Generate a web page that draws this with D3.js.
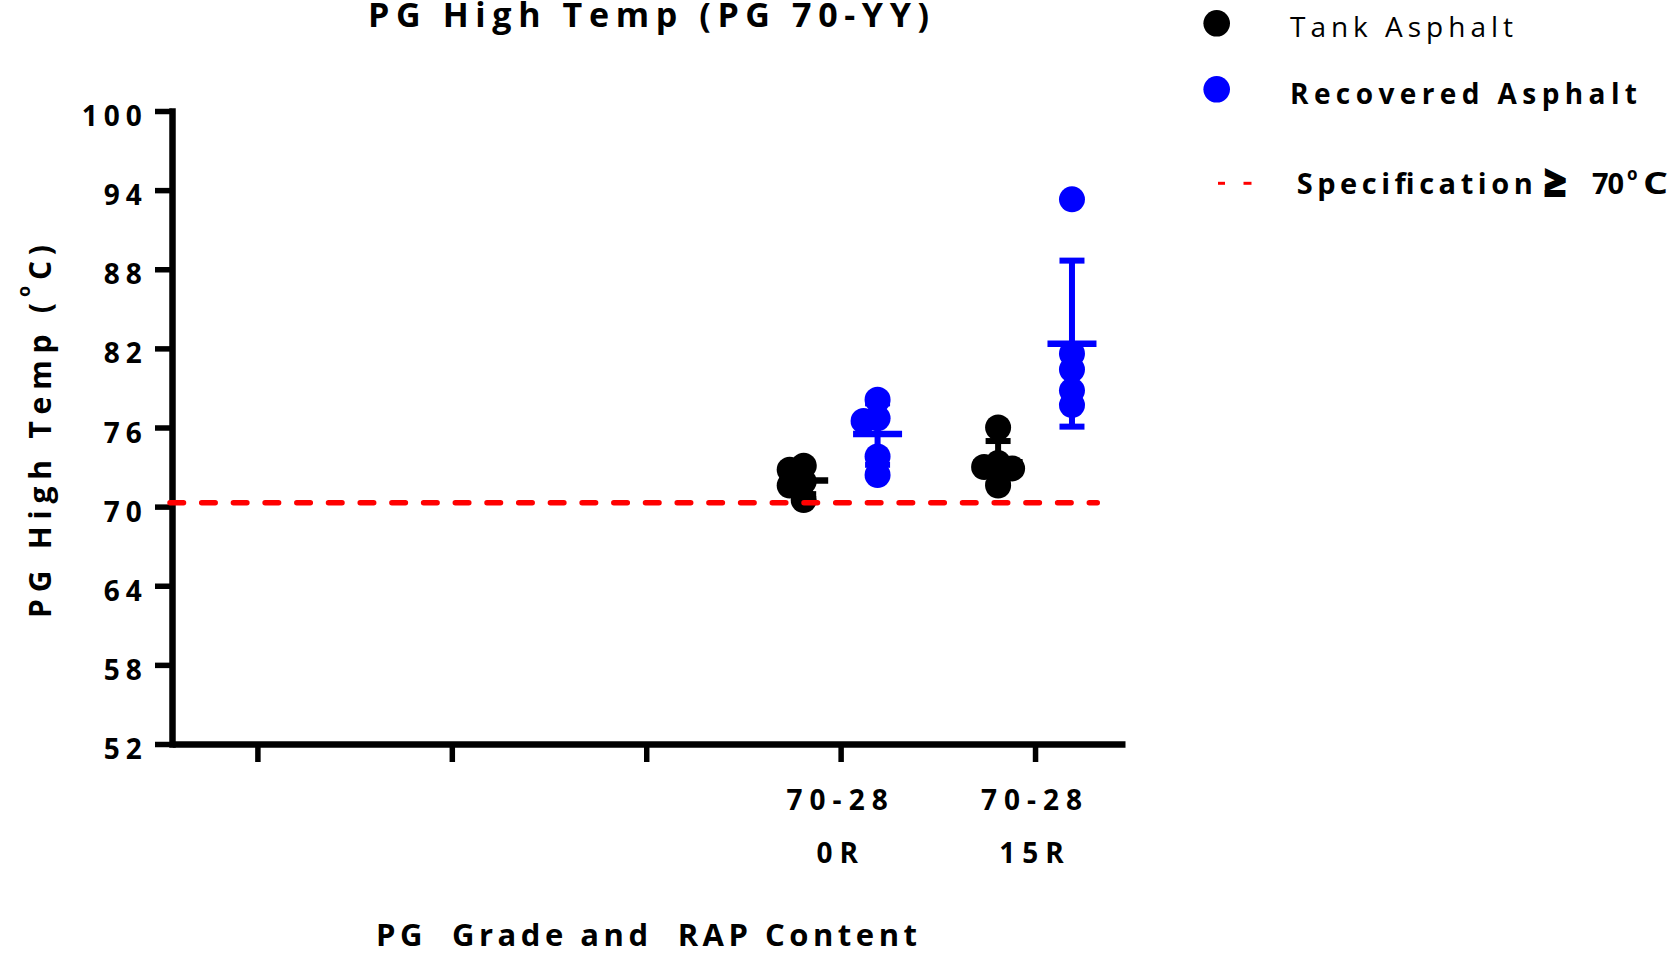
<!DOCTYPE html>
<html>
<head>
<meta charset="utf-8">
<script src="https://cdn.jsdelivr.net/npm/d3@7"></script>
<style>
  body { margin: 0; background: #fff; }
  text { font-family: "Open Sans", sans-serif; }
</style>
</head>
<body>
<div id="chart"></div>
<script>
// x categories: the first three slots have no label in the original
const categories = ["c1", "c2", "c3", "70-28 0R", "70-28 15R"]
const tickLine1 = ["", "", "", "70-28", "70-28"]
const tickLine2 = ["", "", "", "0R", "15R"]
const yTicks = [52, 58, 64, 70, 76, 82, 88, 94, 100]

// PG high temperature readings (deg C), five specimens per group
const tank0R = [73.1, 72.8, 71.9, 71.6, 70.5]
const tank15R = [76.0, 73.3, 73.0, 72.9, 71.6]
const recovered0R = [78.1, 76.7, 76.5, 73.8, 72.4]
const recovered15R = [93.3, 81.6, 80.4, 78.8, 77.7]

const specValue = 70.3

// set the dimensions and margins of the graph
const W = 1675, H = 953
const margin = {top: 111, right: 550, bottom: 209, left: 172},
    width = W - margin.left - margin.right,
    height = H - margin.top - margin.bottom

const svg = d3.select("#chart")
    .append("svg")
    .attr("width", W)
    .attr("height", H)

const g = svg.append("g")
    .attr("transform", `translate(${margin.left}, ${margin.top})`)

const x = d3.scalePoint()
    .domain(categories)
    .range([0, width])
    .padding(0.451)
    .align(0.487)

const y = d3.scaleLinear()
    .domain([52, 100])
    .range([height, 0])

const groups = [
    {cat: "70-28 0R", values: tank0R, color: "#000000", side: -1},
    {cat: "70-28 0R", values: recovered0R, color: "#0000ff", side: 1},
    {cat: "70-28 15R", values: tank15R, color: "#000000", side: -1},
    {cat: "70-28 15R", values: recovered15R, color: "#0000ff", side: 1}
]

const r = 13
const groupOffset = x.step() * 0.19

// spread overlapping dots sideways (like a column scatter)
function dodge(values) {
    const placed = []
    values.slice().sort((a, b) => b - a).forEach(v => {
        const py = y(v)
        for (let k = 0; k < 30; k++) {
            const dx = k === 0 ? 0 : Math.ceil(k / 2) * 7 * (k % 2 ? -1 : 1)
            if (placed.every(q => Math.hypot(q.dx - dx, q.py - py) >= 14)) {
                placed.push({v: v, py: py, dx: dx})
                break
            }
        }
    })
    return placed
}

// Y axis
const yAxis = g.append("g")
    .call(d3.axisLeft(y).tickValues(yTicks).tickSize(17).tickSizeOuter(0))
yAxis.select(".domain").attr("stroke-width", 6.5).attr("stroke-linecap", "square")
yAxis.selectAll(".tick line").attr("stroke-width", 5.5)
yAxis.selectAll(".tick text")
    .attr("x", -24.3)
    .attr("dy", 14.5)
    .style("font-size", "28px")
    .style("font-weight", "700")
    .style("letter-spacing", "6px")
    .attr("fill", "#000")

// X axis
const xAxis = g.append("g")
    .attr("transform", `translate(0, ${height})`)
    .call(d3.axisBottom(x).tickSize(18).tickSizeOuter(0).tickFormat(""))
xAxis.select(".domain").attr("stroke-width", 6.5)
xAxis.selectAll(".tick line").attr("stroke-width", 5.5)
xAxis.selectAll(".tick text").remove()

const xLab = g.append("g")
    .attr("transform", `translate(0, ${height})`)
    .selectAll("g")
    .data(categories)
    .join("g")
    .attr("transform", d => `translate(${x(d)}, 0)`)
xLab.append("text").attr("y", 66).text((d, i) => tickLine1[i])
xLab.append("text").attr("y", 118.5).text((d, i) => tickLine2[i])
xLab.selectAll("text")
    .attr("text-anchor", "middle")
    .style("font-size", "28px")
    .style("font-weight", "700")
    .style("letter-spacing", "7px")

// dots, means and SD bars
groups.forEach(gr => {
    const cx = x(gr.cat) + gr.side * groupOffset
    const m = d3.mean(gr.values)
    const sd = d3.deviation(gr.values)
    const grp = g.append("g")

    grp.selectAll("circle")
        .data(dodge(gr.values))
        .join("circle")
        .attr("cx", d => cx + d.dx)
        .attr("cy", d => d.py)
        .attr("r", r)
        .attr("fill", gr.color)

    grp.append("line")
        .attr("x1", cx).attr("x2", cx)
        .attr("y1", y(m - sd)).attr("y2", y(m + sd))
        .attr("stroke", gr.color).attr("stroke-width", 6)
    ;[m - sd, m + sd].forEach(v => {
        grp.append("line")
            .attr("x1", cx - 12.5).attr("x2", cx + 12.5)
            .attr("y1", y(v)).attr("y2", y(v))
            .attr("stroke", gr.color).attr("stroke-width", 6)
    })
    grp.append("line")
        .attr("x1", cx - 24.5).attr("x2", cx + 24.5)
        .attr("y1", y(m)).attr("y2", y(m))
        .attr("stroke", gr.color).attr("stroke-width", 6.5)
})

// specification line
g.append("line")
    .attr("x1", -2)
    .attr("x2", x(categories[categories.length - 1]) + x.step() * 0.32)
    .attr("y1", y(specValue)).attr("y2", y(specValue))
    .attr("stroke", "#ff0000")
    .attr("stroke-width", 5.5)
    .attr("stroke-linecap", "round")
    .attr("stroke-dasharray", "13.5,18.2")

// title
svg.append("text")
    .attr("x", 368).attr("y", 27)
    .attr("textLength", 561).attr("lengthAdjust", "spacing")
    .style("font-size", "34px").style("font-weight", "700")
    .text("PG High Temp (PG 70-YY)")

// x axis title
svg.append("text")
    .attr("x", 376).attr("y", 946)
    .attr("xml:space", "preserve")
    .style("white-space", "pre")
    .attr("textLength", 541).attr("lengthAdjust", "spacing")
    .style("font-size", "31px").style("font-weight", "700")
    .text("PG  Grade and  RAP Content")

// y axis title
const yt = svg.append("g").attr("transform", "translate(50.5, 618) rotate(-90)")
yt.append("text").attr("x", 0).attr("y", 0)
    .attr("textLength", 315).attr("lengthAdjust", "spacing")
    .style("font-size", "30px").style("font-weight", "700")
    .text("PG High Temp (")
yt.append("text").attr("x", 321).attr("y", -21)
    .style("font-size", "18px").style("font-weight", "700")
    .text("o")
yt.append("text").attr("x", 338).attr("y", 0)
    .attr("textLength", 35).attr("lengthAdjust", "spacing")
    .style("font-size", "30px").style("font-weight", "700")
    .text("C)")

// legend
const legend = svg.append("g")
legend.append("circle").attr("cx", 1216.7).attr("cy", 23.3).attr("r", 13.3).attr("fill", "#000")
legend.append("circle").attr("cx", 1216.7).attr("cy", 89.3).attr("r", 13.3).attr("fill", "#0000ff")
legend.append("text").attr("x", 1290).attr("y", 36.7)
    .attr("textLength", 223).attr("lengthAdjust", "spacing")
    .style("font-size", "28px").style("font-weight", "400")
    .text("Tank Asphalt")
legend.append("text").attr("x", 1290).attr("y", 104)
    .attr("textLength", 347).attr("lengthAdjust", "spacing")
    .style("font-size", "28px").style("font-weight", "700")
    .text("Recovered Asphalt")
;[[1218, 1225], [1243.5, 1251.5]].forEach(s => {
    legend.append("line").attr("x1", s[0]).attr("x2", s[1])
        .attr("y1", 183.3).attr("y2", 183.3)
        .attr("stroke", "#ff0000").attr("stroke-width", 3)
})
legend.append("text").attr("x", 1296.7).attr("y", 194)
    .attr("textLength", 236).attr("lengthAdjust", "spacing")
    .style("font-size", "29px").style("font-weight", "700")
    .text("Specification")
legend.append("text").attr("x", 1555).attr("y", 196)
    .attr("text-anchor", "middle")
    .style("font-size", "38px").style("font-weight", "800")
    .attr("stroke", "#000").attr("stroke-width", 2)
    .text("≥")
legend.append("text").attr("x", 1592).attr("y", 194)
    .attr("textLength", 32).attr("lengthAdjust", "spacing")
    .style("font-size", "29px").style("font-weight", "700")
    .text("70")
legend.append("text").attr("x", 1627).attr("y", 180)
    .style("font-size", "17px").style("font-weight", "700")
    .text("o")
legend.append("text").attr("x", 1643).attr("y", 194)
    .attr("textLength", 25).attr("lengthAdjust", "spacingAndGlyphs")
    .style("font-size", "30px").style("font-weight", "700")
    .text("C")
</script>
</body>
</html>
